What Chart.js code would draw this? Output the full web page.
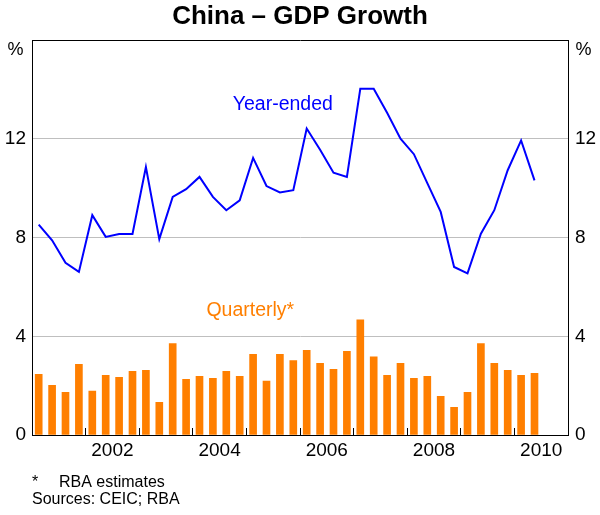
<!DOCTYPE html>
<html>
<head>
<meta charset="utf-8">
<script src="https://cdn.jsdelivr.net/npm/chart.js@4.4.1/dist/chart.umd.min.js"></script>
<style>
  body { margin: 0; background: #fff; }
  canvas { display: block; }
</style>
</head>
<body>
<canvas id="gdp" width="600" height="515"></canvas>
<script>
// quarters, 2001 Q1 to 2010 Q2
var quarters = [
    "2001Q1", "2001Q2", "2001Q3", "2001Q4", "2002Q1", "2002Q2", "2002Q3", "2002Q4",
    "2003Q1", "2003Q2", "2003Q3", "2003Q4", "2004Q1", "2004Q2", "2004Q3", "2004Q4",
    "2005Q1", "2005Q2", "2005Q3", "2005Q4", "2006Q1", "2006Q2", "2006Q3", "2006Q4",
    "2007Q1", "2007Q2", "2007Q3", "2007Q4", "2008Q1", "2008Q2", "2008Q3", "2008Q4",
    "2009Q1", "2009Q2", "2009Q3", "2009Q4", "2010Q1", "2010Q2"
];

var yearEnded = [
    8.53, 7.89, 6.98, 6.61, 8.91, 8.03, 8.15, 8.15,
    10.86, 7.94, 9.65, 9.96, 10.46, 9.65, 9.11, 9.51,
    11.23, 10.09, 9.83, 9.92, 12.42, 11.56, 10.63, 10.46,
    14.03, 14.03, 13.06, 12.01, 11.38, 10.21, 9.04, 6.81,
    6.55, 8.16, 9.11, 10.73, 11.94, 10.32
];

var quarterly = [
    2.46, 2.01, 1.73, 2.86, 1.78, 2.42, 2.34, 2.58,
    2.62, 1.32, 3.70, 2.26, 2.38, 2.30, 2.58, 2.38,
    3.27, 2.19, 3.27, 3.02, 3.43, 2.90, 2.66, 3.39,
    4.67, 3.17, 2.42, 2.90, 2.30, 2.38, 1.57, 1.12,
    1.73, 3.71, 2.90, 2.62, 2.42, 2.50
];

var yearLabels = ["2002", "2004", "2006", "2008", "2010"];
var yTicks = [0, 4, 8, 12, 16];

var FONT = "'Liberation Sans', Arial, sans-serif";
var BLUE = "#0000ff";
var ORANGE = "#ff7f00";

// x axis runs in quarters from the start of 2001
var firstYear = 2001;
function yearStart(y) { return (y - firstYear) * 4; }
function yearMid(y) { return (y - firstYear) * 4 + 2; }

var labelTicks = yearLabels.map(function (y) { return yearMid(+y); });
var boundaryTicks = [];
for (var y = 2002; y <= 2010; y++) boundaryTicks.push(yearStart(y));

var allXTicks = boundaryTicks.concat(labelTicks).sort(function (a, b) { return a - b; });

function pts(arr) {
    return arr.map(function (v, i) { return { x: i + 0.5, y: v }; });
}

var textPlugin = {
    id: "texts",
    afterDraw: function (chart) {
        var ctx = chart.ctx;
        var xs = chart.scales.x, ys = chart.scales.y;
        ctx.save();
        ctx.textAlign = "center";
        ctx.textBaseline = "middle";

        ctx.font = "19.5px " + FONT;
        ctx.fillStyle = BLUE;
        ctx.fillText("Year-ended", xs.getPixelForValue(18.72), ys.getPixelForValue(13.4));
        ctx.fillStyle = ORANGE;
        ctx.fillText("Quarterly*", xs.getPixelForValue(16.29), ys.getPixelForValue(5.03));

        ctx.fillStyle = "#000";
        ctx.font = "18px " + FONT;
        ctx.fillText("%", 15.5, 50);
        ctx.fillText("%", 583.5, 50);

        ctx.textAlign = "left";
        ctx.textBaseline = "alphabetic";
        ctx.font = "16px " + FONT;
        ctx.fillText("*", 32, 487);
        ctx.fillText("RBA estimates", 59, 487);
        ctx.fillText("Sources: CEIC; RBA", 32, 503.5);
        ctx.restore();
    }
};

new Chart(document.getElementById("gdp").getContext("2d"), {
    type: "bar",
    data: {
        labels: quarters,
        datasets: [
            {
                type: "line",
                label: "Year-ended",
                data: pts(yearEnded),
                borderColor: BLUE,
                borderWidth: 2,
                pointRadius: 0,
                tension: 0,
                fill: false,
                yAxisID: "y",
                order: 0
            },
            {
                type: "bar",
                label: "Quarterly",
                data: pts(quarterly),
                backgroundColor: ORANGE,
                borderWidth: 0,
                barThickness: 7,
                yAxisID: "y",
                order: 1
            }
        ]
    },
    options: {
        responsive: false,
        devicePixelRatio: 1,
        animation: false,
        layout: { padding: 0 },
        plugins: {
            legend: { display: false },
            tooltip: { enabled: false },
            title: {
                display: true,
                text: "China \u2013 GDP Growth",
                color: "#000",
                font: { family: FONT, size: 26, weight: "bold", lineHeight: 1.2 },
                padding: { top: 1, bottom: 8 }
            }
        },
        scales: {
            x: {
                type: "linear",
                position: "bottom",
                min: 0,
                max: 40,
                offset: false,
                afterBuildTicks: function (scale) {
                    scale.ticks = allXTicks.map(function (v) { return { value: v }; });
                },
                afterFit: function (scale) { scale.height = 80; },
                ticks: {
                    autoSkip: false,
                    maxRotation: 0,
                    padding: 11,
                    color: "#000",
                    font: { family: FONT, size: 19 },
                    callback: function (value) {
                        var i = labelTicks.indexOf(value);
                        return i >= 0 ? yearLabels[i] : "";
                    }
                },
                grid: {
                    offset: false,
                    drawOnChartArea: false,
                    drawTicks: true,
                    tickLength: -7,
                    tickWidth: 1,
                    tickColor: function (c) {
                        return c.tick && boundaryTicks.indexOf(c.tick.value) >= 0 ? "#000" : "rgba(0,0,0,0)";
                    }
                },
                border: { display: true, color: "#000", width: 1 }
            },
            xTop: {
                type: "linear",
                position: "top",
                min: 0,
                max: 40,
                ticks: { display: false },
                grid: { display: false, drawTicks: false },
                afterFit: function (scale) { scale.height = 0; },
                border: { display: true, color: "#000", width: 1 }
            },
            y: {
                position: "left",
                min: 0,
                max: 16,
                afterBuildTicks: function (scale) {
                    scale.ticks = yTicks.map(function (v) { return { value: v }; });
                },
                afterFit: function (scale) { scale.width = 32; },
                ticks: {
                    padding: 6,
                    color: "#000",
                    font: { family: FONT, size: 19 },
                    callback: function (v) { return v === 16 ? "" : v; }
                },
                grid: {
                    drawTicks: false,
                    lineWidth: 1,
                    color: function (c) {
                        var v = c.tick ? c.tick.value : 0;
                        return (v === 0 || v === 16) ? "rgba(0,0,0,0)" : "#bfbfbf";
                    }
                },
                border: { display: true, color: "#000", width: 1 }
            },
            y2: {
                position: "right",
                min: 0,
                max: 16,
                afterBuildTicks: function (scale) {
                    scale.ticks = yTicks.map(function (v) { return { value: v }; });
                },
                afterFit: function (scale) { scale.width = 32; },
                ticks: {
                    padding: 7,
                    color: "#000",
                    font: { family: FONT, size: 19 },
                    callback: function (v) { return v === 16 ? "" : v; }
                },
                grid: { drawOnChartArea: false, drawTicks: false },
                border: { display: true, color: "#000", width: 1 }
            }
        }
    },
    plugins: [textPlugin]
});
</script>
</body>
</html>
